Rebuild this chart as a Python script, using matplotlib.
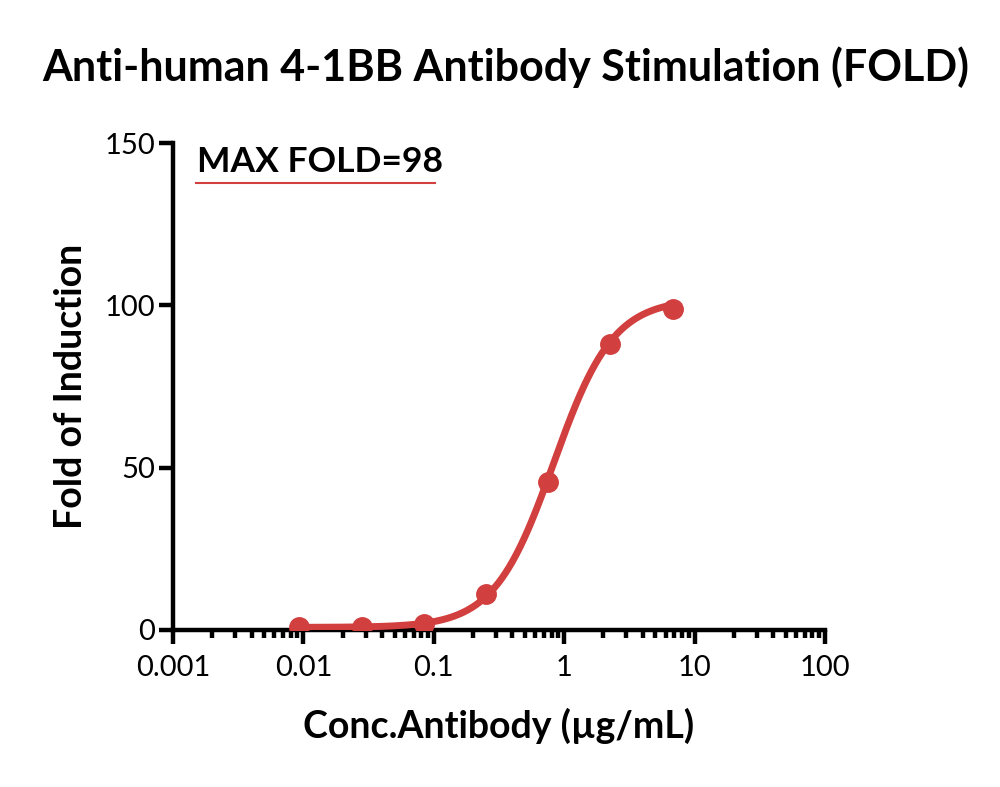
import numpy as np
import matplotlib.pyplot as plt
from matplotlib.ticker import LogLocator, NullFormatter

plt.rcParams['font.family'] = ['Lato', 'DejaVu Sans']

# data
conc = [0.0093, 0.028, 0.084, 0.25, 0.75, 2.26, 6.78]
fold = [0.9, 1.0, 2.0, 11.0, 45.5, 88.0, 99.0]

# 4PL fit parameters (bottom, top, EC50, hill)
bottom, top, ec50, hill = 0.8, 102.0, 0.83, 1.9

red = '#d23f3f'

fig = plt.figure(figsize=(10, 7.87), dpi=100)
ax = fig.add_axes([0.173, 157/787, 0.652, 487/787])

xs = np.logspace(np.log10(conc[0]), np.log10(conc[-1]), 300)
ys = bottom + (top - bottom) / (1 + (ec50 / xs) ** hill)
ax.plot(xs, ys, color=red, lw=5, solid_capstyle='round', zorder=3)
ax.plot(conc, fold, 'o', color=red, ms=14, zorder=4)

ax.set_xscale('log')
ax.set_xlim(0.001, 100)
ax.set_ylim(0, 150)
ax.set_xticks([0.001, 0.01, 0.1, 1, 10, 100])
ax.set_xticklabels(['0.001', '0.01', '0.1', '1', '10', '100'])
ax.xaxis.set_minor_locator(LogLocator(base=10, subs=np.arange(2, 10)))
ax.xaxis.set_minor_formatter(NullFormatter())
ax.set_yticks([0, 50, 100, 150])

for s in ['top', 'right']:
    ax.spines[s].set_visible(False)
for s in ['left', 'bottom']:
    ax.spines[s].set_linewidth(3.2)
ax.tick_params(axis='both', which='major', length=10, width=3.2, labelsize=21, pad=8)
ax.tick_params(axis='y', which='major', pad=3)
ax.tick_params(axis='x', which='minor', length=6, width=3.2)
ax.tick_params(axis='y', which='minor', left=False)

ax.set_xlabel('Conc.Antibody (µg/mL)', fontsize=27, fontweight='bold', labelpad=19)
ax.set_ylabel('Fold of Induction', fontsize=27, fontweight='bold', labelpad=12)

fig.text(0.506, 0.915, 'Anti-human 4-1BB Antibody Stimulation (FOLD)',
         ha='center', va='center', fontsize=31, fontweight='bold')

ax.text(0.037, 0.961, 'MAX FOLD=98', transform=ax.transAxes,
        fontsize=25.5, fontweight='bold', va='center', ha='left')
ax.plot([0.035, 0.402], [0.918, 0.918], transform=ax.transAxes,
        color=red, lw=1.5, clip_on=False)

fig.savefig('out.png', dpi=100)
